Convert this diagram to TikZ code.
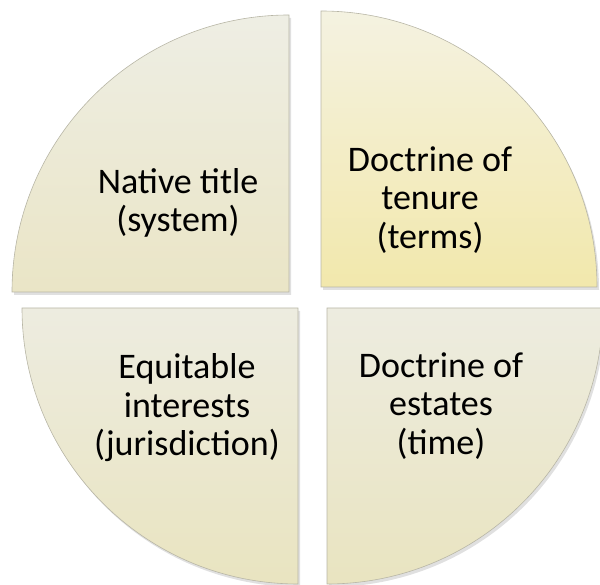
\documentclass[tikz,border=0pt]{standalone}
\usepackage{fontspec}
\setmainfont{Carlito}
\usepackage{tikz}

\definecolor{rimgray}{RGB}{184,182,166}
\definecolor{tlTop}{RGB}{238,238,228}
\definecolor{tlBot}{RGB}{234,229,198}
\definecolor{trTop}{RGB}{244,242,225}
\definecolor{trBot}{RGB}{242,232,172}
\definecolor{bTop}{RGB}{237,236,224}
\definecolor{bBot}{RGB}{233,228,192}

\begin{document}
\begin{tikzpicture}[
    x                  = 1pt,
    y                  = 1pt,
    quarter/.style     = {draw=rimgray, line width=0.6pt, shading=axis, shading angle=0},
    shade/.style       = {fill=black, fill opacity=0.12, draw=none},
    every node/.style  = {font=\fontsize{36}{38.5}\selectfont, align=center, text=black}
  ]
\useasboundingbox (0,0) rectangle (600,585);

% corners of the four pieces
\coordinate (tl) at (289,293);
\coordinate (tr) at (321,298);
\coordinate (bl) at (298,277);
\coordinate (br) at (327,277);

% soft shadows
\fill[shade] ([shift={(2,-3)}]tl) -- ++(-277,0) arc[start angle=180, end angle=90, radius=277] -- cycle;
\fill[shade] ([shift={(2,-3)}]tr) -- ++(0,276) arc[start angle=90, end angle=0, radius=276] -- cycle;
\fill[shade] ([shift={(2,-3)}]bl) -- ++(-276,0) arc[start angle=180, end angle=270, radius=276] -- cycle;
\fill[shade] ([shift={(2,-3)}]br) -- ++(276,0) arc[start angle=0, end angle=-90, radius=276] -- cycle;

% pieces
\path[quarter, top color=tlTop, bottom color=tlBot]
  (tl) -- ++(-277,0) arc[start angle=180, end angle=90, radius=277] -- cycle;
\path[quarter, top color=trTop, bottom color=trBot]
  (tr) -- ++(0,276) arc[start angle=90, end angle=0, radius=276] -- cycle;
\path[quarter, top color=bTop, bottom color=bBot]
  (bl) -- ++(-276,0) arc[start angle=180, end angle=270, radius=276] -- cycle;
\path[quarter, top color=bTop, bottom color=bBot]
  (br) -- ++(276,0) arc[start angle=0, end angle=-90, radius=276] -- cycle;

% labels
\node (native)   at (178,382) {Native title\\(system)};
\node (tenure)   at (430,385) {Doctrine of\\tenure\\(terms)};
\node (equity)   at (187,177) {Equitable\\interests\\(jurisdiction)};
\node (estates)  at (441,179) {Doctrine of\\estates\\(time)};

\end{tikzpicture}
\end{document}
